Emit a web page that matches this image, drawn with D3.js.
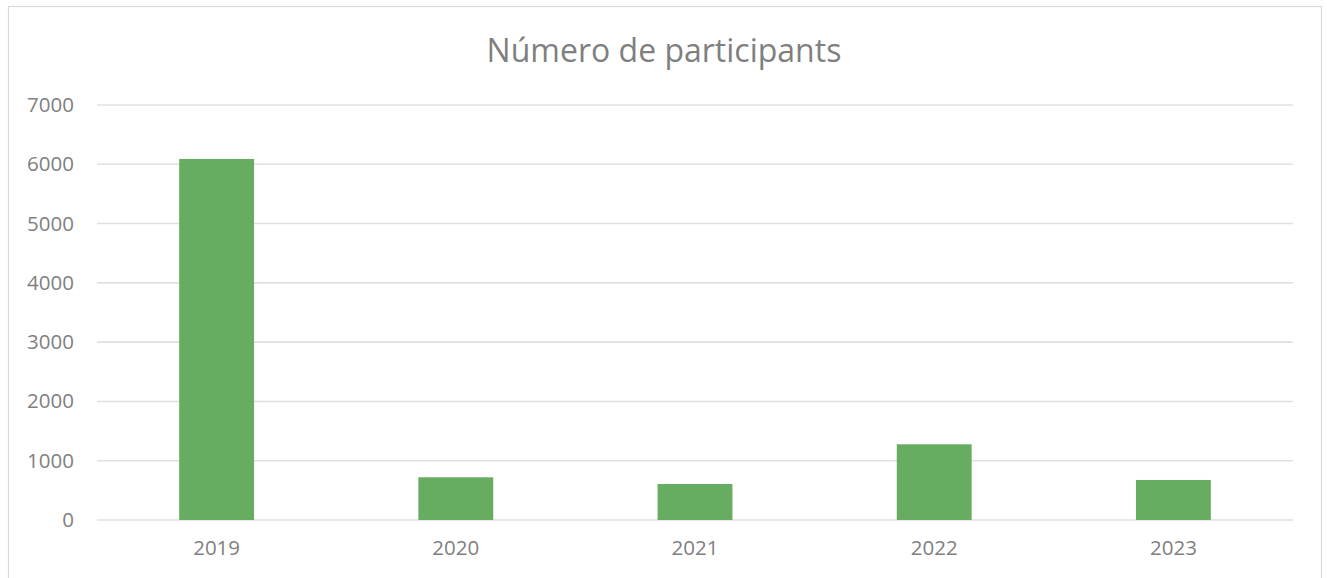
<!DOCTYPE html>
<html>
<head>
<meta charset="utf-8">
<script src="https://cdn.jsdelivr.net/npm/d3@7"></script>
<style>
  body { margin: 0; background: #fff; }
  text { font-family: "Open Sans", sans-serif; fill: #7f7f7f; }
</style>
</head>
<body>
<svg id="chart" width="1327" height="578"></svg>
<script>
// data
const years = ['2019', '2020', '2021', '2022', '2023'];
const participants = [6090, 720, 607, 1277, 675];
const yTicks = [0, 1000, 2000, 3000, 4000, 5000, 6000, 7000];
const title = 'Número de participants';

const svg = d3.select('#chart');
const width = +svg.attr('width');
const height = +svg.attr('height');

// outer chart frame
svg.append('rect')
  .attr('x', 8.5).attr('y', 6.5)
  .attr('width', 1313).attr('height', 580)
  .attr('fill', 'none')
  .attr('stroke', '#d9d9d9')
  .attr('stroke-width', 1.2);

const margin = { left: 97, right: 34, top: 105, bottom: 58 };

const x = d3.scaleBand()
  .domain(years)
  .range([margin.left, width - margin.right])
  .paddingInner(0.687)
  .paddingOuter(0.3435);

const y = d3.scaleLinear()
  .domain([0, 7000])
  .range([height - margin.bottom, margin.top]);

// gridlines
svg.append('g')
  .selectAll('line')
  .data(yTicks)
  .join('line')
  .attr('x1', margin.left)
  .attr('x2', width - margin.right)
  .attr('y1', d => y(d))
  .attr('y2', d => y(d))
  .attr('stroke', '#e0e0e0')
  .attr('stroke-width', 1.6);

// y labels
const yAxis = d3.axisLeft(y).tickValues(yTicks).tickFormat(d3.format('d')).tickSize(0).tickPadding(23);
const gy = svg.append('g')
  .attr('transform', `translate(${margin.left},0)`)
  .call(yAxis);
gy.select('.domain').remove();
gy.selectAll('text')
  .style('font-size', '20.5px')
  .attr('fill', '#7f7f7f');

// bars
svg.append('g')
  .selectAll('rect')
  .data(years)
  .join('rect')
  .attr('x', d => x(d))
  .attr('width', x.bandwidth())
  .attr('y', (d, i) => y(participants[i]))
  .attr('height', (d, i) => y(0) - y(participants[i]))
  .attr('fill', '#66ad61');

// x labels
const xAxis = d3.axisBottom(x).tickSize(0).tickPadding(20);
const gx = svg.append('g')
  .attr('transform', `translate(0,${y(0)})`)
  .call(xAxis);
gx.select('.domain').remove();
gx.selectAll('text')
  .style('font-size', '20.5px')
  .attr('fill', '#7f7f7f');

// title
svg.append('text')
  .attr('x', 664)
  .attr('y', 62)
  .attr('text-anchor', 'middle')
  .style('font-size', '32px')
  .text(title);
</script>
</body>
</html>
